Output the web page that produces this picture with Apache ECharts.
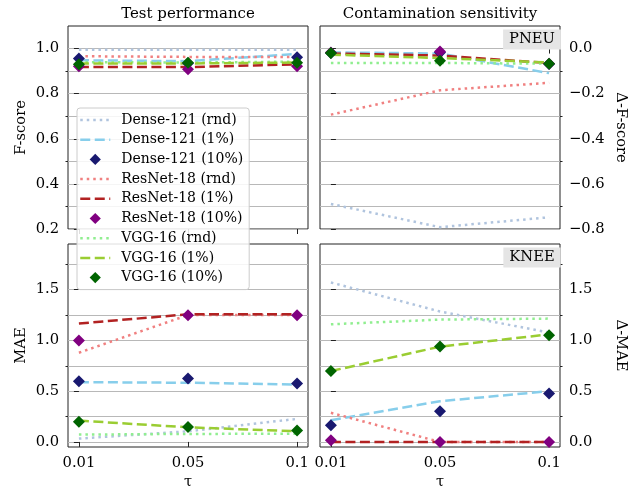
<!DOCTYPE html>
<html><head><meta charset="utf-8">
<script src="https://cdn.jsdelivr.net/npm/echarts@6/dist/echarts.min.js"></script>
<style>html,body{margin:0;padding:0;background:#fff}#c{width:635px;height:491px}</style>
</head><body><div id="c"></div>
<script>
// ---- data ----
const tauLabels = ['0.01', '0.05', '0.1'];
const seriesNames = ['Dense-121 (rnd)', 'Dense-121 (1%)', 'Dense-121 (10%)',
  'ResNet-18 (rnd)', 'ResNet-18 (1%)', 'ResNet-18 (10%)',
  'VGG-16 (rnd)', 'VGG-16 (1%)', 'VGG-16 (10%)'];

// Test performance: F-score (PNEU)
const fDenseRnd = [0.995, 0.995, 0.995];
const fDense1 = [0.948, 0.944, 0.976];
const fDense10 = [0.956, 0.935, 0.961];
const fResRnd = [0.966, 0.963, 0.963];
const fRes1 = [0.918, 0.918, 0.930];
const fRes10 = [0.922, 0.908, 0.921];
const fVggRnd = [0.940, 0.938, 0.942];
const fVgg1 = [0.934, 0.934, 0.938];
const fVgg10 = [0.930, 0.937, 0.937];

// Contamination sensitivity: delta F-score (PNEU)
const dfDenseRnd = [-0.689, -0.792, -0.748];
const dfDense1 = [-0.017, -0.022, -0.109];
const dfDense10 = [-0.020, -0.018, -0.068];
const dfResRnd = [-0.293, -0.185, -0.152];
const dfRes1 = [-0.022, -0.031, -0.064];
const dfRes10 = [-0.018, -0.013, -0.067];
const dfVggRnd = [-0.064, -0.064, -0.067];
const dfVgg1 = [-0.027, -0.042, -0.062];
const dfVgg10 = [-0.020, -0.054, -0.067];

// Test performance: MAE (KNEE)
const maeDenseRnd = [0.033, 0.105, 0.227];
const maeDense1 = [0.589, 0.583, 0.566];
const maeDense10 = [0.599, 0.625, 0.576];
const maeResRnd = [0.879, 1.250, 1.250];
const maeRes1 = [1.166, 1.258, 1.258];
const maeRes10 = [1.000, 1.248, 1.248];
const maeVggRnd = [0.072, 0.079, 0.080];
const maeVgg1 = [0.210, 0.144, 0.105];
const maeVgg10 = [0.200, 0.148, 0.112];

// Contamination sensitivity: delta MAE (KNEE)
const dmDenseRnd = [1.571, 1.285, 1.077];
const dmDense1 = [0.213, 0.401, 0.500];
const dmDense10 = [0.164, 0.302, 0.477];
const dmResRnd = [0.287, 0.000, 0.000];
const dmRes1 = [0.000, 0.000, 0.000];
const dmRes10 = [0.016, 0.000, 0.000];
const dmVggRnd = [1.159, 1.205, 1.215];
const dmVgg1 = [0.698, 0.939, 1.060];
const dmVgg10 = [0.700, 0.940, 1.050];

// tick values
const fMajor = [0.2, 0.4, 0.6, 0.8, 1.0];
const fMinor = [0.3, 0.5, 0.7, 0.9];
const dfMajor = [-0.8, -0.6, -0.4, -0.2, 0.0];
const dfMinor = [-0.7, -0.5, -0.3, -0.1];
const maeMajor = [0.0, 0.5, 1.0, 1.5];
const maeMinor = [0.25, 0.75, 1.25, 1.75];

// ---- styles ----
const FONT = 'DejaVu Serif';
const styles = [
  {color: '#b0c4de', kind: 'dot'}, {color: '#87ceeb', kind: 'dash'}, {color: '#191970', kind: 'mark'},
  {color: '#f08080', kind: 'dot'}, {color: '#b22222', kind: 'dash'}, {color: '#800080', kind: 'mark'},
  {color: '#90ee90', kind: 'dot'}, {color: '#9acd32', kind: 'dash'}, {color: '#006400', kind: 'mark'}
];
const DOT = [2.5, 4];
const DASH = [10, 4.5];
const panels = [
  [fDenseRnd, fDense1, fDense10, fResRnd, fRes1, fRes10, fVggRnd, fVgg1, fVgg10],
  [dfDenseRnd, dfDense1, dfDense10, dfResRnd, dfRes1, dfRes10, dfVggRnd, dfVgg1, dfVgg10],
  [maeDenseRnd, maeDense1, maeDense10, maeResRnd, maeRes1, maeRes10, maeVggRnd, maeVgg1, maeVgg10],
  [dmDenseRnd, dmDense1, dmDense10, dmResRnd, dmRes1, dmRes10, dmVggRnd, dmVgg1, dmVgg10]
];

const gridPos = [[68, 26], [320, 26], [68, 244], [320, 244]];
const grids = gridPos.map(p => ({
  left: p[0], top: p[1], width: 240, height: 203,
  show: true, borderColor: '#222', borderWidth: 1, backgroundColor: 'transparent',
  containLabel: false, outerBoundsMode: 'none'
}));

const fmt = v => (Math.abs(v) < 1e-9 ? 0 : v).toFixed(1).replace('-', '\u2212');
const axisTxt = {fontFamily: FONT, fontSize: 14.7, color: '#000'};
const gridLine = {show: true, lineStyle: {color: '#b8b8b8', width: 1}};

const xAxes = [0, 1, 2, 3].map(i => ({
  type: 'value', gridIndex: i, min: -0.1, max: 2.1,
  axisLine: {show: false},
  axisTick: {show: true, length: 5, customValues: [0, 1, 2], lineStyle: {color: '#222'}},
  axisLabel: Object.assign({show: i >= 2, customValues: [0, 1, 2], margin: 9,
    formatter: v => tauLabels[Math.round(v)]}, axisTxt),
  splitLine: {show: false},
  name: i >= 2 ? 'τ' : '', nameLocation: 'middle', nameGap: 28,
  nameTextStyle: axisTxt
}));

const yDefs = [
  {min: 0.2, max: 1.1, major: fMajor, minor: fMinor, pos: 'left', name: 'F-score', rot: 90, gap: 39},
  {min: -0.8, max: 0.1, major: dfMajor, minor: dfMinor, pos: 'right', name: '\u0394-F-score', rot: -90, gap: 53},
  {min: -0.05, max: 1.95, major: maeMajor, minor: maeMinor, pos: 'left', name: 'MAE', rot: 90, gap: 39},
  {min: -0.05, max: 1.95, major: maeMajor, minor: maeMinor, pos: 'right', name: '\u0394-MAE', rot: -90, gap: 53}
];
const yAxes = [];
yDefs.forEach((d, i) => {
  yAxes.push({
    type: 'value', gridIndex: i, min: d.min, max: d.max, position: d.pos,
    axisLine: {show: false},
    axisTick: {show: true, length: 5, customValues: d.major, lineStyle: {color: '#222'}},
    axisLabel: Object.assign({customValues: d.major, margin: 9, formatter: fmt}, axisTxt),
    splitLine: gridLine,
    name: d.name, nameLocation: 'middle', nameRotate: d.rot, nameGap: d.gap,
    nameTextStyle: axisTxt
  });
  yAxes.push({
    type: 'value', gridIndex: i, min: d.min, max: d.max, position: d.pos,
    axisLine: {show: false},
    axisTick: {show: true, length: 2.5, customValues: d.minor, lineStyle: {color: '#222'}},
    axisLabel: {show: false, customValues: d.minor},
    splitLine: gridLine
  });
});

const series = [];
panels.forEach((arrs, pi) => {
  arrs.forEach((vals, si) => {
    const st = styles[si];
    const s = {
      name: seriesNames[si], type: 'line', xAxisIndex: pi, yAxisIndex: pi * 2,
      data: vals.map((v, k) => [k, v]),
      animation: false, clip: false, z: 3
    };
    if (st.kind === 'mark') {
      s.symbol = 'diamond'; s.symbolSize = 12;
      s.itemStyle = {color: st.color};
      s.lineStyle = {opacity: 0, width: 0};
      s.z = 4;
    } else {
      s.symbol = 'none'; s.showSymbol = false;
      s.itemStyle = {color: st.color};
      s.lineStyle = {color: st.color, width: 2.5, cap: 'butt',
        type: st.kind === 'dot' ? DOT : DASH};
    }
    series.push(s);
  });
});

const legendData = seriesNames.map((n, i) => {
  const st = styles[i];
  if (st.kind === 'mark') {
    return {name: n, lineStyle: {opacity: 0}};
  }
  return {name: n, itemStyle: {opacity: 0},
    lineStyle: {color: st.color, width: 2.5, cap: 'butt', type: st.kind === 'dot' ? DOT : DASH}};
});

const chart = echarts.init(document.getElementById('c'), null, {renderer: 'canvas'});
chart.setOption({
  animation: false,
  backgroundColor: '#fff',
  grid: grids,
  xAxis: xAxes,
  yAxis: yAxes,
  series: series,
  legend: {
    data: legendData, orient: 'vertical', left: 77, top: 108,
    padding: [5, 6, 5, 2], itemWidth: 30, itemHeight: 14, itemGap: 5.7,
    backgroundColor: 'rgba(255,255,255,0.85)', borderColor: '#cccccc', borderWidth: 1, borderRadius: 3,
    textStyle: {fontFamily: FONT, fontSize: 14, color: '#000', padding: [0, 0, 0, 6], lineHeight: 14},
    selectedMode: false, z: 10
  },
  graphic: [
    {type: 'text', x: 188, y: 14, style: {text: 'Test performance', fontFamily: FONT, fontSize: 15, fill: '#000', align: 'center', verticalAlign: 'middle'}},
    {type: 'text', x: 440, y: 14, style: {text: 'Contamination sensitivity', fontFamily: FONT, fontSize: 15, fill: '#000', align: 'center', verticalAlign: 'middle'}},
    {type: 'text', x: 532, y: 39.5, z: 20, style: {text: 'PNEU', fontFamily: FONT, fontSize: 14.7, fill: '#000', align: 'center', verticalAlign: 'middle', backgroundColor: '#e5e5e5', padding: [3, 6, 3, 6], lineHeight: 14}},
    {type: 'text', x: 532, y: 257.5, z: 20, style: {text: 'KNEE', fontFamily: FONT, fontSize: 14.7, fill: '#000', align: 'center', verticalAlign: 'middle', backgroundColor: '#e5e5e5', padding: [3, 6, 3, 6], lineHeight: 14}}
  ]
});
</script></body></html>
